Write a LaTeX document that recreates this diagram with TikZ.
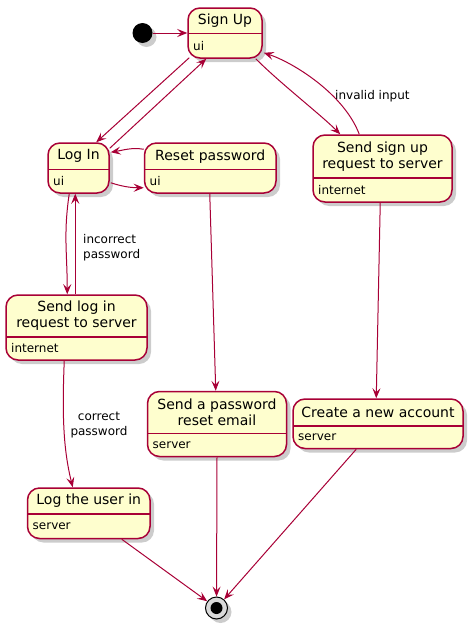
\documentclass[tikz,border=0pt]{standalone}
\usepackage{fontspec}
\setmainfont{DejaVu Sans}
\usetikzlibrary{arrows.meta,shadows,calc}
\definecolor{stfill}{HTML}{FEFECE}
\definecolor{stline}{HTML}{A80036}
\tikzset{
 shad/.style={drop shadow={shadow xshift=4pt,shadow yshift=-4pt,fill=black!40,opacity=0.5}},
 stbox/.style={draw=stline, fill=stfill, line width=1.5pt, rounded corners=12pt, inner sep=0pt, shad},
 divline/.style={draw=stline, line width=1.5pt},
 titletext/.style={inner sep=0pt, align=center, font=\fontsize{14}{16}\selectfont},
 bodytext/.style={inner sep=0pt, anchor=west, font=\fontsize{12}{14}\selectfont},
 lbl/.style={inner sep=0pt, font=\fontsize{12}{15}\selectfont},
 arr/.style={draw=stline, line width=1pt, -{Stealth[length=10pt,width=8pt,inset=4pt]}},
}
\newcommand\umlstate[8]{%
 \node[stbox, minimum width={#4-#2}, minimum height={#5-#3}] (#1) at ({(#2+#4)/2},{(#3+#5)/2}) {};
 \draw[divline] (#2,#6) -- (#4,#6);
 \node[titletext] (#1-t) at ({(#2+#4)/2},{(#3+#6)/2}) {#7};
 \node[bodytext] (#1-b) at ({#2+5},{(#6+#5)/2}) {#8};
}
\begin{document}
\begin{tikzpicture}[x=1pt,y=-1pt]
\useasboundingbox (0,0) rectangle (474,629);

\umlstate{signup}{188}{8}{262}{58}{33.5}{Sign Up}{ui}
\umlstate{login}{48}{143}{109}{193}{169.5}{Log In}{ui}
\umlstate{reset}{144.5}{143}{276}{193}{169.5}{Reset password}{ui}
\umlstate{sendsignup}{313}{135}{452}{202}{178}{Send sign up\\request to server}{internet}
\umlstate{sendlogin}{6}{295}{147}{360}{337}{Send log in\\request to server}{internet}
\umlstate{sendreset}{147.5}{391.5}{286.5}{456.5}{433.5}{Send a password\\reset email}{server}
\umlstate{create}{293}{399}{463}{448.5}{426}{Create a new account}{server}
\umlstate{loguser}{27.5}{488}{150}{538.5}{514}{Log the user in}{server}

\node[circle, fill=black, minimum size=20pt, inner sep=0pt, shad] (start) at (142.5,33) {};
\node[circle, draw=black, fill=black!15, line width=1pt, minimum size=22pt, inner sep=0pt, shad] (end) at (216.5,608) {};
\node[circle, fill=black, minimum size=12pt, inner sep=0pt] (endin) at (end) {};

\draw[arr] (start) -- (signup.west);
\draw[arr] ($(signup.south west)+(2,-1)$) -- ($(login.north west)+(49,0)$);
\draw[arr] ($(login.north east)+(0,6)$) -- ($(signup.south west)+(19,0)$);
\draw[arr] ($(reset.north west)+(0,7)$) .. controls +(-12,-2) and +(12,-2) .. ($(login.north east)+(1,10)$);
\draw[arr] ($(login.south east)+(1,-11)$) .. controls +(12,4) and +(-12,0) .. ($(reset.south west)+(0,-6)$);
\draw[arr] ($(signup.south east)+(-7,0)$) .. controls +(25,25) and +(-20,-20) .. ($(sendsignup.north west)+(28,0)$);
\draw[arr] ($(sendsignup.north west)+(47,0)$) .. controls +(-15,-40) and +(30,10) .. ($(signup.south east)+(1,-6)$);
\draw[arr] ($(login.south west)+(22,0)$) .. controls +(-6,40) and +(0,-40) .. ($(sendlogin.north west)+(62,0)$);
\draw[arr] ($(sendlogin.north west)+(70,0)$) -- ($(login.south west)+(28,0)$);
\draw[arr] ($(sendlogin.south west)+(59,0)$) .. controls +(-2,50) and +(-10,-40) .. ($(loguser.north west)+(46,0)$);
\draw[arr] ($(reset.south west)+(66,0)$) -- ($(sendreset.north west)+(69,0)$);
\draw[arr] ($(sendsignup.south west)+(68,0)$) -- ($(create.north west)+(84,0)$);
\draw[arr] ($(loguser.south west)+(95,0)$) -- (end);
\draw[arr] (sendreset.south) -- (end);
\draw[arr] ($(create.south west)+(64,0)$) -- (end);

\node[lbl, anchor=west] (l1) at (335,96) {invalid input};
\node[lbl, anchor=west, align=left] (l2) at (83,248) {incorrect\\password};
\node[lbl, align=center] (l3) at (99,425) {correct\\password};
\end{tikzpicture}
\end{document}
